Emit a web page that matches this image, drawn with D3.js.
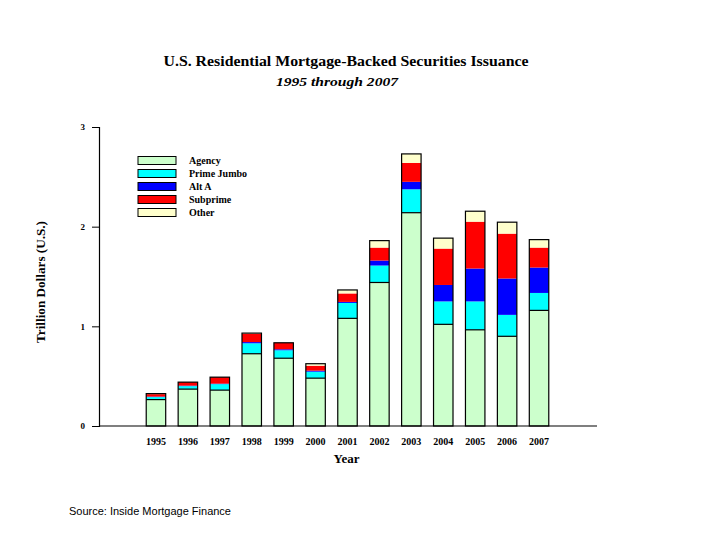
<!DOCTYPE html>
<html>
<head>
<meta charset="utf-8">
<script src="https://cdn.jsdelivr.net/npm/d3@7"></script>
<style>
  body { margin: 0; background: #fff; }
  text { font-family: "Liberation Serif", "Times New Roman", serif; }
</style>
</head>
<body>
<svg id="chart" width="720" height="540"></svg>
<script>
var years = ['1995','1996','1997','1998','1999','2000','2001','2002','2003','2004','2005','2006','2007'];
var agency     = [0.265, 0.37, 0.36, 0.725, 0.68, 0.48, 1.08, 1.44, 2.14, 1.02, 0.965, 0.90, 1.16];
var primeJumbo = [0.025, 0.03, 0.06, 0.105, 0.08, 0.065, 0.155, 0.17, 0.235, 0.23, 0.285, 0.215, 0.175];
var altA       = [0.005, 0.005, 0.005, 0.012, 0.01, 0.01, 0.01, 0.05, 0.075, 0.165, 0.33, 0.365, 0.255];
var subprime   = [0.025, 0.035, 0.065, 0.085, 0.065, 0.05, 0.085, 0.13, 0.19, 0.365, 0.47, 0.45, 0.2];
var other      = [0.005, 0.0, 0.0, 0.005, 0.0, 0.02, 0.035, 0.07, 0.09, 0.105, 0.105, 0.115, 0.08];
var seriesNames = ['Agency', 'Prime Jumbo', 'Alt A', 'Subprime', 'Other'];
var seriesColors = ['#ccffcc', '#00ffff', '#0000ff', '#ff0000', '#ffffcc'];
var yTicks = [0, 1, 2, 3];

var svg = d3.select('#chart');

var rows = years.map(function(y, i) {
  return { year: y, Agency: agency[i], 'Prime Jumbo': primeJumbo[i], 'Alt A': altA[i],
           Subprime: subprime[i], Other: other[i] };
});

var x = d3.scaleBand()
  .domain(years)
  .range([140, 555])
  .paddingInner(0.39)
  .paddingOuter(0.195);

var y = d3.scaleLinear()
  .domain([0, 3])
  .range([426, 127]);

var color = d3.scaleOrdinal().domain(seriesNames).range(seriesColors);

var stacked = d3.stack().keys(seriesNames)(rows);

// bar segments
svg.append('g')
  .selectAll('g')
  .data(stacked)
  .enter()
  .append('g')
  .attr('fill', function(d) { return color(d.key); })
  .selectAll('rect')
  .data(function(d) { return d; })
  .enter()
  .append('rect')
  .attr('x', function(d) { return x(d.data.year); })
  .attr('y', function(d) { return y(d[1]); })
  .attr('width', x.bandwidth())
  .attr('height', function(d) { return y(d[0]) - y(d[1]); });

// black line on top of agency part
svg.append('g')
  .selectAll('line')
  .data(rows)
  .enter()
  .append('line')
  .attr('x1', function(d) { return x(d.year); })
  .attr('x2', function(d) { return x(d.year) + x.bandwidth(); })
  .attr('y1', function(d) { return y(d.Agency); })
  .attr('y2', function(d) { return y(d.Agency); })
  .attr('stroke', '#000')
  .attr('stroke-width', 1.2);

// outline of each bar
var topLayer = stacked[stacked.length - 1];
svg.append('g')
  .selectAll('rect')
  .data(topLayer)
  .enter()
  .append('rect')
  .attr('x', function(d) { return x(d.data.year); })
  .attr('y', function(d) { return y(d[1]); })
  .attr('width', x.bandwidth())
  .attr('height', function(d) { return y(0) - y(d[1]); })
  .attr('fill', 'none')
  .attr('stroke', '#000')
  .attr('stroke-width', 1.2);

// axes
var yAxis = svg.append('g')
  .attr('transform', 'translate(99,0)')
  .call(d3.axisLeft(y).tickValues(yTicks).tickSize(7).tickPadding(7).tickFormat(d3.format('d')));
yAxis.select('.domain').attr('stroke-width', 1.2);
yAxis.selectAll('text')
  .style('font-family', '"Liberation Serif", serif')
  .style('font-weight', 'bold')
  .style('font-size', '9px');

svg.append('line')
  .attr('x1', 99).attr('x2', 597)
  .attr('y1', y(0)).attr('y2', y(0))
  .attr('stroke', '#000')
  .attr('stroke-width', 1.2);

svg.append('g')
  .selectAll('text')
  .data(years)
  .enter()
  .append('text')
  .attr('x', function(d) { return x(d) + x.bandwidth() / 2; })
  .attr('y', 445)
  .attr('text-anchor', 'middle')
  .style('font-weight', 'bold')
  .style('font-size', '10px')
  .text(function(d) { return d; });

// titles
svg.append('text')
  .attr('x', 346).attr('y', 66)
  .attr('text-anchor', 'middle')
  .attr('textLength', 365)
  .attr('lengthAdjust', 'spacingAndGlyphs')
  .style('font-weight', 'bold')
  .style('font-size', '15px')
  .text('U.S. Residential Mortgage-Backed Securities Issuance');

svg.append('text')
  .attr('x', 337).attr('y', 86)
  .attr('text-anchor', 'middle')
  .attr('textLength', 122)
  .attr('lengthAdjust', 'spacingAndGlyphs')
  .style('font-weight', 'bold')
  .style('font-style', 'italic')
  .style('font-size', '12px')
  .text('1995 through 2007');

svg.append('text')
  .attr('x', 346.5).attr('y', 463)
  .attr('text-anchor', 'middle')
  .style('font-weight', 'bold')
  .style('font-size', '13px')
  .text('Year');

svg.append('text')
  .attr('transform', 'translate(45,282) rotate(-90)')
  .attr('text-anchor', 'middle')
  .attr('textLength', 122)
  .attr('lengthAdjust', 'spacingAndGlyphs')
  .style('font-weight', 'bold')
  .style('font-size', '12px')
  .text('Trillion Dollars (U.S.)');

svg.append('text')
  .attr('x', 69).attr('y', 515)
  .attr('textLength', 162)
  .attr('lengthAdjust', 'spacingAndGlyphs')
  .style('font-family', '"Liberation Sans", Arial, sans-serif')
  .style('font-size', '11px')
  .text('Source: Inside Mortgage Finance');

// legend
var legend = svg.append('g')
  .selectAll('g')
  .data(seriesNames)
  .enter()
  .append('g')
  .attr('transform', function(d, i) { return 'translate(138,' + (156.5 + i * 13) + ')'; });

legend.append('rect')
  .attr('width', 38)
  .attr('height', 8)
  .attr('fill', function(d) { return color(d); })
  .attr('stroke', '#000')
  .attr('stroke-width', 1);

legend.append('text')
  .attr('x', 51)
  .attr('y', 7.5)
  .style('font-weight', 'bold')
  .style('font-size', '10px')
  .text(function(d) { return d; });
</script>
</body>
</html>
